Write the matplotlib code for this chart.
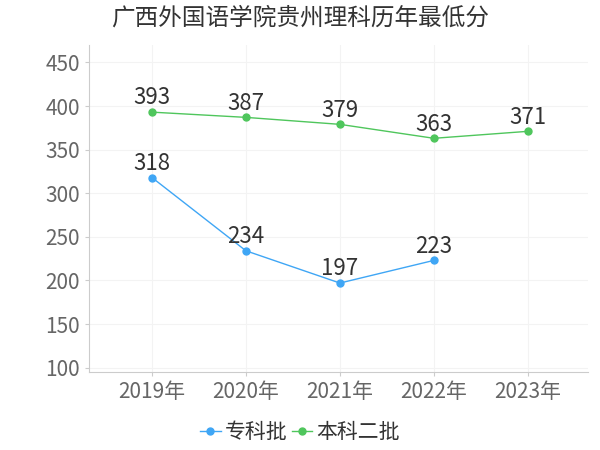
import matplotlib
matplotlib.use('Agg')
import matplotlib.pyplot as plt

plt.rcParams['font.family'] = ['Noto Sans CJK SC', 'DejaVu Sans']

years = ['2019年', '2020年', '2021年', '2022年', '2023年']
zhuanke = [318, 234, 197, 223]
benke2 = [393, 387, 379, 363, 371]
title = '广西外国语学院贵州理科历年最低分'

blue = '#3fa6f5'
green = '#4fc65c'

fig = plt.figure(figsize=(6, 4.5), dpi=100)
ax = fig.add_axes([89 / 600, 1 - 372 / 450, 499 / 600, 327 / 450])

x1 = list(range(len(zhuanke)))
x2 = list(range(len(benke2)))
ax.plot(x1, zhuanke, color=blue, lw=1, marker='o', ms=5, label='专科批')
ax.plot(x2, benke2, color=green, lw=1, marker='o', ms=5, label='本科二批')
for xs, ys in ((x1, zhuanke), (x2, benke2)):
    for x, y in zip(xs, ys):
        ax.annotate(str(y), (x, y), xytext=(0, 2), textcoords='offset points',
                    ha='center', va='bottom', fontsize=16, color='#333333')

ax.set_xlim(-0.67, 4.64)
ax.set_ylim(95, 470)
ax.set_yticks(range(100, 451, 50))
ax.set_xticks(x2)
ax.set_xticklabels(years)
ax.tick_params(axis='both', labelsize=15, colors='#666666', length=3)
ax.tick_params(axis='both', color='#cccccc')
ax.grid(True, color='#f3f3f3', lw=0.8)
ax.set_axisbelow(True)
for s in ('top', 'right'):
    ax.spines[s].set_visible(False)
ax.spines['left'].set_color('#cccccc')
ax.spines['bottom'].set_color('#cccccc')

fig.text(0.5, 1 - 18 / 450, title, ha='center', va='center', fontsize=17, color='#333333')
fig.legend(loc='center', bbox_to_anchor=(0.5, 1 - 432 / 450), ncol=2, frameon=False,
           fontsize=15, handlelength=1.0, handletextpad=0.2, columnspacing=0.2,
           labelcolor='#333333')

fig.savefig('out.png', dpi=100)
